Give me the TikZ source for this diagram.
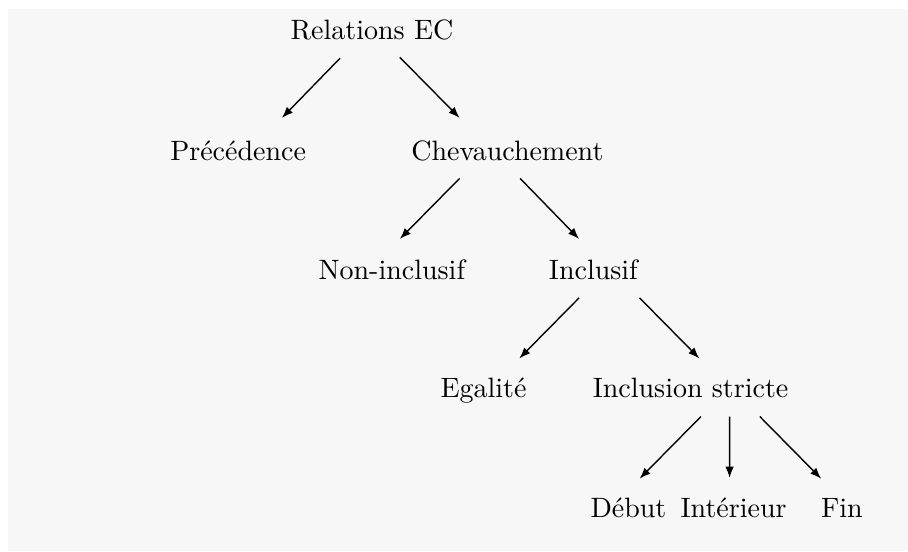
\documentclass[tikz,border=0pt]{standalone}
\usepackage{tikz}
\usetikzlibrary{arrows.meta, calc}
\definecolor{bggray}{RGB}{247,247,247}

\begin{document}
\begin{tikzpicture}[
  rel/.style={inner sep=0pt, text height=1.6ex, text depth=0.25ex},
  arr/.style={-{Latex[length=4pt, width=3pt]}, line width=0.5pt}
]
  \useasboundingbox (0,0) rectangle (11.40,-6.92);
  \fill[bggray] (0.10,-0.11) rectangle (11.40,-6.92);

  % levels of the tree
  \node[rel] (root) at (4.67,-0.39) {Relations EC};
  \node[rel] (prec) at (2.99,-1.91) {Précédence};
  \node[rel] (chev) at (6.37,-1.91) {Chevauchement};
  \node[rel] (noninc) at (4.92,-3.41) {Non-inclusif};
  \node[rel] (inc) at (7.45,-3.41) {Inclusif};
  \node[rel] (egal) at (6.07,-4.89) {Egalité};
  \node[rel] (strict) at (8.67,-4.89) {Inclusion stricte};
  \node[rel] (debut) at (7.89,-6.40) {Début};
  \node[rel] (inter) at (9.21,-6.40) {Intérieur};
  \node[rel] (fin) at (10.57,-6.40) {Fin};

  % arrows
  \draw[arr] ($(root)+(-0.40,-0.34)$) -- ($(prec)+(0.55,0.43)$);
  \draw[arr] ($(root)+(0.35,-0.33)$) -- ($(chev)+(-0.60,0.43)$);
  \draw[arr] ($(chev)+(-0.60,-0.33)$) -- ($(noninc)+(0.10,0.41)$);
  \draw[arr] ($(chev)+(0.16,-0.33)$) -- ($(inc)+(-0.18,0.41)$);
  \draw[arr] ($(inc)+(-0.18,-0.33)$) -- ($(egal)+(0.45,0.39)$);
  \draw[arr] ($(inc)+(0.58,-0.33)$) -- ($(strict)+(0.11,0.39)$);
  \draw[arr] ($(strict)+(0.13,-0.34)$) -- ($(debut)+(0.14,0.39)$);
  \draw[arr] ($(strict)+(0.49,-0.34)$) -- ($(inter)+(-0.05,0.40)$);
  \draw[arr] ($(strict)+(0.87,-0.34)$) -- ($(fin)+(-0.26,0.39)$);
\end{tikzpicture}
\end{document}
